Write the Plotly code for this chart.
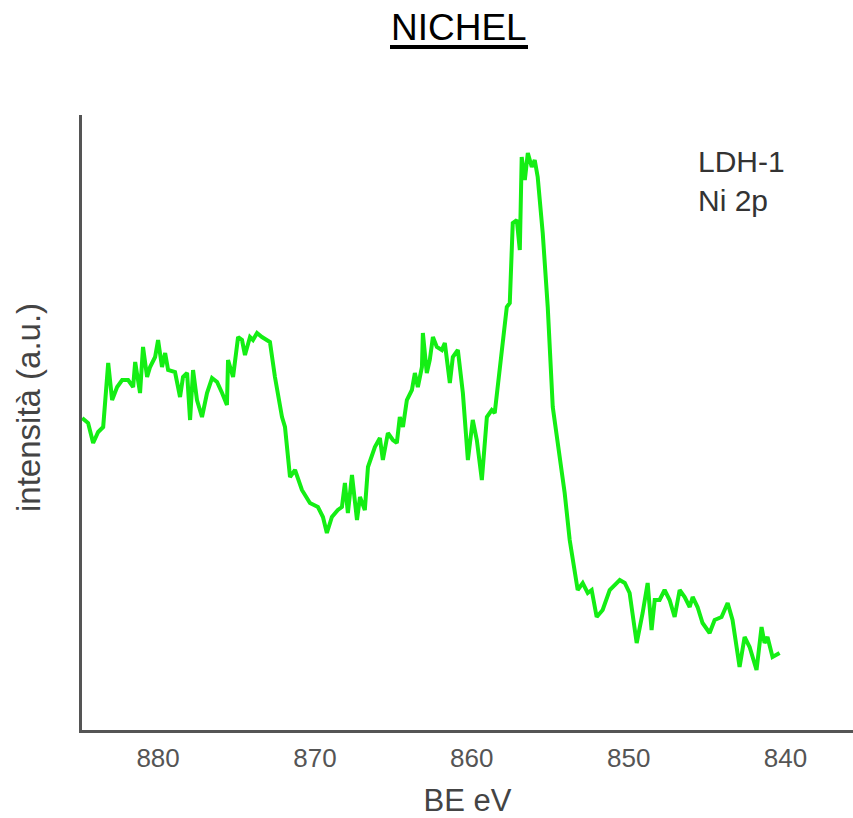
import plotly.graph_objects as go

# Binding energy (eV) and intensity (a.u.)
be = [884.84, 884.46, 884.14, 883.82, 883.50, 883.18, 882.93, 882.61, 882.29, 881.91,
      881.59, 881.46, 881.15, 880.96, 880.70, 880.51, 880.19, 880.00, 879.75, 879.55,
      879.36, 878.92, 878.60, 878.41, 878.15, 877.96, 877.77, 877.52, 877.20, 876.88,
      876.56, 876.24, 875.92, 875.61, 875.54, 875.22, 874.90, 874.65, 874.46, 874.14,
      873.95, 873.69, 873.38, 873.06, 872.87, 872.55, 872.10, 871.91, 871.59, 871.27,
      870.83, 870.32, 869.81, 869.49, 869.24, 868.92, 868.54, 868.28, 868.09, 867.90,
      867.64, 867.32, 867.13, 866.82, 866.62, 866.18, 865.86, 865.67, 865.35, 865.03,
      864.78, 864.59, 864.39, 864.14, 863.82, 863.63, 863.44, 863.18, 863.12, 862.87,
      862.68, 862.48, 862.23, 861.91, 861.72, 861.40, 861.21, 860.89, 860.57, 860.25,
      859.94, 859.68, 859.36, 859.04, 858.73, 858.54, 858.22, 857.77, 857.58, 857.39,
      857.13, 856.94, 856.82, 856.62, 856.43, 856.18, 855.99, 855.80, 855.48, 855.16,
      854.84, 854.39, 854.08, 853.76, 853.44, 853.25, 852.93, 852.61, 852.36, 852.04,
      851.66, 851.21, 850.57, 850.25, 849.94, 849.49, 849.11, 848.79, 848.54, 848.34,
      848.03, 847.71, 847.39, 847.07, 846.75, 846.43, 846.11, 845.92, 845.61, 845.29,
      844.84, 844.52, 844.08, 843.69, 843.38, 842.93, 842.61, 842.29, 841.85, 841.53,
      841.34, 841.15, 840.83, 840.38]

intensity = [312, 307, 287, 298, 303, 367, 330, 343, 350, 350,
             343, 368, 337, 383, 353, 363, 373, 390, 363, 377,
             360, 358, 333, 353, 357, 310, 360, 330, 313, 337,
             352, 348, 337, 325, 370, 353, 393, 390, 375, 393,
             390, 397, 393, 390, 388, 353, 313, 303, 253, 260,
             240, 227, 223, 213, 197, 213, 220, 223, 247, 217,
             255, 210, 233, 220, 263, 283, 292, 270, 297, 290,
             287, 313, 303, 330, 340, 357, 343, 363, 397, 357,
             370, 393, 383, 380, 387, 347, 373, 380, 337, 270,
             310, 290, 250, 313, 320, 317, 360, 423, 427, 507,
             510, 480, 573, 550, 577, 563, 570, 553, 497, 423,
             323, 270, 237, 190, 157, 140, 147, 137, 140, 113,
             120, 140, 150, 147, 137, 87, 117, 147, 100, 130,
             130, 140, 130, 113, 140, 133, 123, 133, 123, 107,
             97, 110, 113, 127, 110, 63, 93, 83, 60, 103,
             87, 93, 73, 77]

x_ticks = [880, 870, 860, 850, 840]
title_text = "NICHEL"
x_title = "BE eV"
y_title = "intensità (a.u.)"
label_lines = ["LDH-1", "Ni 2p"]

FONT = "Liberation Sans, Arial, sans-serif"

fig = go.Figure()
fig.add_trace(go.Scatter(
    x=be, y=intensity, mode="lines",
    line=dict(color="#14ee14", width=4),
    showlegend=False, hoverinfo="skip",
))

fig.update_layout(
    width=853, height=818,
    margin=dict(l=82, r=0, t=115, b=88),
    paper_bgcolor="white", plot_bgcolor="white",
    font=dict(family=FONT, color="#444"),
    showlegend=False,
)

fig.update_xaxes(
    range=[884.85, 835.7],
    tickvals=x_ticks, ticktext=[str(t) for t in x_ticks],
    showgrid=False, zeroline=False,
    showline=True, linecolor="#555", linewidth=2.5,
    ticks="", ticklabelstandoff=3,
    tickfont=dict(size=26, color="#555", family=FONT),
    title=dict(text=x_title, font=dict(size=31, color="#444", family=FONT), standoff=19),
)
fig.update_yaxes(
    range=[0, 615],
    showgrid=False, zeroline=False, showticklabels=False,
    showline=True, linecolor="#555", linewidth=2.5, ticks="",
)

# y-axis title
fig.add_annotation(
    xref="paper", yref="paper", x=(28 - 82) / 771, y=1 - (408 - 115) / 615,
    text=y_title, showarrow=False, textangle=-90,
    font=dict(size=33, color="#444", family=FONT),
    xanchor="center", yanchor="middle",
)
fig.add_annotation(
    xref="paper", yref="paper", x=(459 - 82) / 771, y=1 + (115 - 27) / 615,
    text=title_text, showarrow=False,
    font=dict(size=37, color="black", family=FONT),
    xanchor="center", yanchor="middle",
)
# underline of the title
fig.add_shape(
    type="line", xref="paper", yref="paper",
    x0=(390 - 82) / 771, x1=(528 - 82) / 771,
    y0=1 + (115 - 47) / 615, y1=1 + (115 - 47) / 615,
    line=dict(color="black", width=4),
)
fig.add_annotation(
    xref="paper", yref="paper", x=(696 - 82) / 771, y=1 - (181 - 115) / 615,
    text="<br>".join(label_lines), showarrow=False, align="left",
    font=dict(size=30, color="#333", family=FONT),
    xanchor="left", yanchor="middle",
)

fig.write_html("out.html")
